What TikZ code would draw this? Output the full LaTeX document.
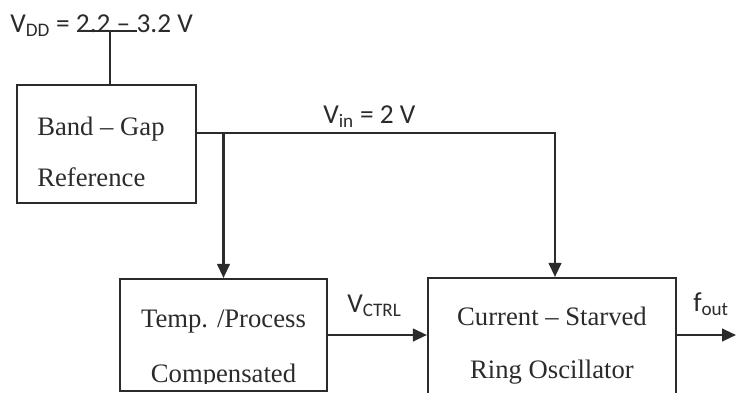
\documentclass[tikz,border=0pt]{standalone}
\usepackage{fontspec}
\setmainfont{Liberation Serif}
\newfontfamily\lblfont{Carlito}
\usepackage{xcolor}
\definecolor{ink}{HTML}{2B2B2B}
\usepackage{tikz}
\usetikzlibrary{positioning,arrows.meta,calc}

\begin{document}
\begin{tikzpicture}[x=0.75pt, y=-0.75pt,
    blk/.style={draw=ink, line width=1.6pt, rectangle, inner sep=0pt},
    boxtxt/.style={font=\fontsize{20}{24}\selectfont, text=ink, anchor=base, inner sep=0pt},
    lbl/.style={font=\lblfont\fontsize{20.5}{24}\selectfont, text=ink, anchor=base west, inner sep=0pt},
    wire/.style={draw=ink, line width=1.6pt},
    feed/.style={wire, -{Triangle[length=10.5pt, width=9.5pt]}}]
  \useasboundingbox (0,0) rectangle (736,393);
  \clip (0,0) rectangle (736,393);
  % the three blocks
  \node[blk, minimum width=179*0.75pt, minimum height=118*0.75pt] (bgr) at (106.5,144) {};
  \node[blk, minimum width=207*0.75pt, minimum height=112*0.75pt] (tcp) at (223.5,335) {};
  \node[blk, minimum width=248*0.75pt, minimum height=116*0.75pt] (cso) at (552,336) {};
  \node[boxtxt, anchor=base west] (bgr1) at (37,135) {Band – Gap};
  \node[boxtxt, anchor=base west] (bgr2) at (37,186) {Reference};
  \node[boxtxt] (tcp1) at (223.5,327) {Temp. /Process};
  \node[boxtxt] (cso1) at (552,325) {Current – Starved};
  \begin{scope}
    \clip (0,0) rectangle (736,383);
    \node[boxtxt] (tcp2) at (223.5,382) {Compensated};
    \node[boxtxt] (cso2) at (552,378) {Ring Oscillator};
  \end{scope}
  % labels
  \node[lbl] (vdd) at (10,32) {V\textsubscript{DD} = 2.2 – 3.2 V};
  \node[lbl] (vin) at (323,123) {V\textsubscript{in} = 2 V};
  \node[lbl] (vctrl) at (347,312) {V\textsubscript{CTRL}};
  \node[lbl] (fout) at (693,311) {f\textsubscript{out}};
  % supply
  \coordinate (vddl) at (83,31);
  \coordinate (vddr) at (137,31);
  \coordinate (vddj) at (110,31);
  \draw[wire, line width=0.8pt] (vddl) -- (vddr);
  \draw[wire, line width=0.8pt] (vddj) -- (vddj |- bgr.north);
  % signal path
  \coordinate (bgo) at ([yshift=11*0.75pt]bgr.east);
  \coordinate (fo) at (736,335);
  \draw[feed] (bgo) -| ([xshift=3*0.75pt]cso.north);
  \draw[feed] (bgo -| tcp.north) -- (tcp.north);
  \draw[feed] (tcp.east) -- (tcp.east -| cso.west);
  \draw[feed] (cso.east |- fo) -- (fo);
\end{tikzpicture}
\end{document}
